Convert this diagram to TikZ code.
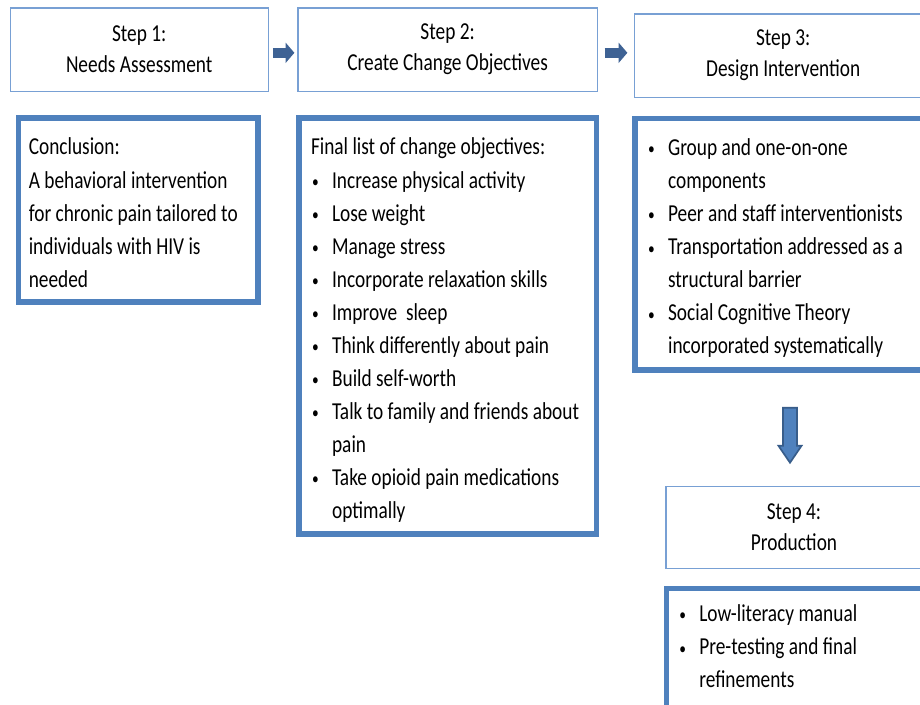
\documentclass[tikz,border=0pt]{standalone}
\usepackage{fontspec}
\setmainfont{Carlito}[FakeStretch=0.795]
\usepackage{tikz}
\usetikzlibrary{arrows.meta,positioning,calc}
\definecolor{hdrline}{RGB}{120,160,212}
\definecolor{boxline}{RGB}{79,129,189}
\definecolor{arrblue}{RGB}{62,98,148}
\definecolor{arrdark}{RGB}{56,93,138}
\newcommand{\normspaces}{\spaceskip 0pt\relax\xspaceskip 0pt\relax}
\newcommand{\objmark}{\hangindent=15pt\hangafter=1%
  \makebox[15pt][l]{\hspace{0.8pt}\raisebox{0.6pt}{\fontsize{12}{12}\selectfont\textbullet}}}
\newcommand{\objitem}{\par\noindent\objmark}

\begin{document}
\begin{tikzpicture}[x=1cm,y=1cm,
  font=\fontsize{17.3}{23.5}\selectfont,
  stepbox/.style={draw=hdrline, line width=0.9pt, fill=white, minimum height=2.08cm,
                  align=center, font=\fontsize{17.3}{22}\selectfont,
                  execute at begin node=\normspaces},
  listbox/.style={draw=boxline, line width=3.8pt, fill=white, align=left,
                  inner xsep=0.3cm, inner ysep=0pt, text height=26.3pt,
                  execute at begin node=\normspaces},
  arr/.style={-{Triangle[length=0.22cm,width=0.5cm]}, draw=arrblue, line width=0.25cm},
  downarr/.style={draw=arrdark, fill=boxline, line width=1.2pt, line join=miter}
]
\path[use as bounding box, fill=white] (0,0) rectangle (23,-17.6);

\node[stepbox, minimum width=6.45cm] (step1) at ( 3.48,-1.24) {Step 1:\\Needs Assessment};
\node[stepbox, minimum width=7.48cm] (step2) at (11.19,-1.24) {Step 2:\\Create Change Objectives};
\node[stepbox, minimum width=7.45cm] (step3) at (19.58,-1.39) {Step 3:\\Design Intervention};
\node[stepbox, minimum width=6.40cm, minimum height=2.05cm] (step4) at (19.85,-13.18) {Step 4:\\Production};

\node[listbox, inner xsep=0.25cm, text width=5.48cm, text depth=104.6pt] (concl) at (3.46,-5.25)
  {Conclusion:\\A behavioral intervention\\for chronic pain tailored to\\individuals with HIV is\\needed};
\node[listbox, text width=6.83cm, text depth=269.6pt] (objs) at (11.19,-8.15)
  {Final list of change objectives:
   \objitem Increase physical activity
   \objitem Lose weight
   \objitem Manage stress
   \objitem Incorporate relaxation skills
   \objitem Improve\ \ sleep
   \objitem Think differently about pain
   \objitem Build self-worth
   \objitem Talk to family and friends about\newline pain
   \objitem Take opioid pain medications\newline optimally\par};
\node[listbox, text width=6.63cm, text depth=152.4pt] (design) at (19.49,-6.11)
  {\objmark Group and one-on-one\newline components
   \objitem Peer and staff interventionists
   \objitem Transportation addressed as a\newline structural barrier
   \objitem Social Cognitive Theory\newline incorporated systematically\par};
\node[listbox, text width=5.85cm, text height=23.5pt, text depth=61.3pt] (prod) at (19.88,-16.21)
  {\objmark Low-literacy manual
   \objitem Pre-testing and final\newline refinements\par};

\draw[arr, shorten <=0.1cm, shorten >=0.075cm] ([yshift=-0.08cm]step1.east) -- ([yshift=-0.08cm]step1.east -| step2.west);
\draw[arr, shorten <=0.17cm, shorten >=0.155cm] ([yshift=-0.08cm]step2.east) -- ([yshift=-0.08cm]step2.east -| step3.west);

\coordinate (dtop) at ($(design.south)+(0.26,-0.875)$);
\draw[downarr] ($(dtop)+(-0.175,0)$) -- ++(0,-0.95) -- ++(-0.115,0) -- ($(dtop)+(0,-1.375)$)
  -- ++(0.29,0.425) -- ++(-0.115,0) -- ++(0,0.95) -- cycle;
\end{tikzpicture}
\end{document}
